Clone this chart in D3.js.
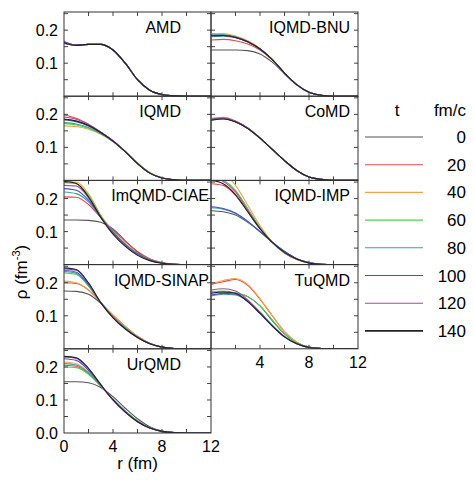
<!DOCTYPE html>
<html><head><meta charset="utf-8">
<script src="https://cdn.jsdelivr.net/npm/d3@7"></script>
<style>body{margin:0;background:#fff}text{font-family:"Liberation Sans",Arial,sans-serif}</style>
</head><body><div id="chart"></div>
<script>
// radial density profiles, one panel per model
var radii = [0, 1, 2, 3, 4, 5, 6, 7, 8, 9, 10, 12];
var times = [0, 20, 40, 60, 80, 100, 120, 140];
var colors = ["#555555", "#e8474e", "#f5a34a", "#4fd14f", "#3aa39a", "#4a4ad6", "#9a4f9a", "#222222"];

var amd = [
  [.160,.154,.157,.157,.140,.100,.050,.018,.005,.001,0,0],
  [.161,.154,.157,.157,.140,.100,.050,.018,.005,.001,0,0],
  [.162,.155,.157,.157,.140,.100,.050,.018,.005,.001,0,0],
  [.163,.155,.157,.157,.140,.100,.050,.018,.005,.001,0,0],
  [.164,.155,.157,.157,.140,.100,.050,.018,.005,.001,0,0],
  [.166,.155,.157,.157,.140,.100,.050,.018,.005,.001,0,0],
  [.163,.155,.157,.157,.140,.100,.050,.018,.005,.001,0,0],
  [.162,.154,.157,.157,.140,.100,.050,.018,.005,.001,0,0]];
var iqmdBnu = [
  [.140,.140,.140,.138,.128,.103,.068,.034,.012,.003,0,0],
  [.170,.172,.168,.158,.140,.110,.070,.035,.012,.003,0,0],
  [.190,.190,.182,.168,.145,.112,.070,.035,.012,.003,0,0],
  [.185,.186,.180,.166,.144,.112,.070,.035,.012,.003,0,0],
  [.180,.182,.177,.164,.142,.111,.070,.035,.012,.003,0,0],
  [.185,.185,.179,.165,.143,.111,.070,.035,.012,.003,0,0],
  [.183,.184,.178,.165,.143,.111,.070,.035,.012,.003,0,0],
  [.183,.184,.178,.165,.143,.111,.070,.035,.012,.003,0,0]];
var iqmd = [
  [.183,.178,.165,.145,.120,.088,.052,.023,.007,.002,0,0],
  [.198,.188,.170,.147,.120,.087,.051,.022,.007,.002,0,0],
  [.165,.163,.155,.140,.118,.088,.053,.024,.008,.002,0,0],
  [.172,.168,.158,.141,.118,.087,.052,.023,.007,.002,0,0],
  [.175,.171,.160,.142,.118,.087,.052,.023,.007,.002,0,0],
  [.185,.180,.166,.145,.119,.087,.051,.022,.007,.002,0,0],
  [.192,.185,.169,.146,.120,.087,.051,.022,.007,.002,0,0],
  [.185,.180,.166,.145,.119,.087,.051,.022,.007,.002,0,0]];
var comd = [
  [.184,.188,.178,.158,.128,.094,.060,.030,.010,.003,0,0],
  [.186,.190,.180,.159,.129,.094,.060,.030,.010,.003,0,0],
  [.188,.191,.180,.159,.129,.094,.060,.030,.010,.003,0,0],
  [.185,.189,.179,.158,.128,.094,.060,.030,.010,.003,0,0],
  [.184,.188,.178,.158,.128,.094,.060,.030,.010,.003,0,0],
  [.183,.187,.178,.158,.128,.094,.060,.030,.010,.003,0,0],
  [.185,.189,.179,.158,.128,.094,.060,.030,.010,.003,0,0],
  [.182,.186,.177,.157,.128,.094,.060,.030,.010,.003,0,0]];
var imqmdCiae = [
  [.135,.135,.134,.128,.108,.072,.038,.016,.005,.001,0,0],
  [.205,.204,.182,.142,.105,.070,.040,.018,.006,.001,0,0],
  [.250,.250,.215,.150,.098,.060,.033,.015,.005,.001,0,0],
  [.248,.245,.210,.148,.100,.062,.034,.015,.005,.001,0,0],
  [.220,.215,.190,.143,.100,.063,.034,.015,.005,.001,0,0],
  [.230,.225,.195,.144,.098,.060,.032,.014,.005,.001,0,0],
  [.240,.238,.202,.145,.096,.058,.030,.013,.004,.001,0,0],
  [.252,.246,.205,.143,.092,.055,.028,.012,.004,.001,0,0]];
var iqmdImp = [
  [.163,.160,.150,.128,.100,.068,.040,.018,.006,.001,0,0],
  [.245,.240,.210,.160,.110,.068,.036,.016,.005,.001,0,0],
  [.280,.275,.240,.180,.118,.068,.034,.015,.005,.001,0,0],
  [.262,.255,.225,.170,.113,.068,.035,.016,.005,.001,0,0],
  [.172,.168,.155,.130,.100,.068,.040,.018,.006,.001,0,0],
  [.175,.170,.156,.131,.100,.068,.040,.018,.006,.001,0,0],
  [.262,.252,.220,.165,.110,.067,.036,.016,.005,.001,0,0],
  [.255,.245,.212,.160,.108,.067,.037,.017,.005,.001,0,0]];
var iqmdSinap = [
  [.175,.174,.165,.138,.102,.068,.038,.017,.005,.001,0,0],
  [.200,.198,.178,.140,.100,.066,.037,.016,.005,.001,0,0],
  [.205,.200,.178,.140,.102,.068,.038,.017,.005,.001,0,0],
  [.230,.225,.190,.140,.098,.064,.036,.016,.005,.001,0,0],
  [.235,.228,.192,.140,.097,.063,.035,.016,.005,.001,0,0],
  [.238,.232,.195,.140,.096,.062,.035,.016,.005,.001,0,0],
  [.242,.238,.198,.140,.095,.061,.034,.015,.005,.001,0,0],
  [.245,.240,.200,.140,.094,.060,.034,.015,.005,.001,0,0]];
var tuqmd = [
  [.172,.172,.168,.158,.130,.085,.045,.018,.005,.001,0,0],
  [.195,.203,.210,.192,.150,.100,.052,.020,.005,.001,0,0],
  [.198,.207,.213,.195,.152,.101,.052,.020,.005,.001,0,0],
  [.172,.175,.170,.158,.130,.088,.046,.018,.005,.001,0,0],
  [.160,.165,.163,.145,.112,.072,.038,.016,.005,.001,0,0],
  [.163,.168,.165,.143,.108,.070,.036,.015,.004,.001,0,0],
  [.178,.182,.175,.148,.110,.070,.036,.015,.004,.001,0,0],
  [.168,.172,.168,.143,.107,.069,.036,.015,.004,.001,0,0]];
var urqmd = [
  [.155,.155,.152,.138,.110,.075,.043,.019,.006,.001,0,0],
  [.205,.202,.180,.142,.102,.066,.036,.016,.005,.001,0,0],
  [.215,.210,.185,.144,.102,.066,.036,.016,.005,.001,0,0],
  [.200,.198,.178,.142,.103,.067,.037,.016,.005,.001,0,0],
  [.210,.206,.182,.143,.102,.066,.036,.016,.005,.001,0,0],
  [.225,.220,.190,.145,.100,.064,.035,.015,.005,.001,0,0],
  [.230,.226,.194,.146,.100,.063,.034,.015,.005,.001,0,0],
  [.232,.228,.196,.147,.100,.063,.034,.015,.005,.001,0,0]];

var panels = [
  {name: "AMD", rows: amd, col: 0, row: 0},
  {name: "IQMD-BNU", rows: iqmdBnu, col: 1, row: 0},
  {name: "IQMD", rows: iqmd, col: 0, row: 1},
  {name: "CoMD", rows: comd, col: 1, row: 1},
  {name: "ImQMD-CIAE", rows: imqmdCiae, col: 0, row: 2},
  {name: "IQMD-IMP", rows: iqmdImp, col: 1, row: 2},
  {name: "IQMD-SINAP", rows: iqmdSinap, col: 0, row: 3},
  {name: "TuQMD", rows: tuqmd, col: 1, row: 3},
  {name: "UrQMD", rows: urqmd, col: 0, row: 4}
];

var width = 474, height = 481;
var marginLeft = 64, marginTop = 12, pw = 147, ph = 84.2;

var svg = d3.select("#chart").append("svg")
  .attr("width", width).attr("height", height);

var x = d3.scaleLinear().domain([0, 12]).range([0, pw]);
var y = d3.scaleLinear().domain([0, 0.255]).range([ph, 0]);

var line = d3.line()
  .curve(d3.curveMonotoneX)
  .x(function(d, i) { return x(radii[i]); })
  .y(function(d) { return y(d); });

svg.append("defs").append("clipPath").attr("id", "clip")
  .append("rect").attr("width", pw).attr("height", ph);

panels.forEach(function(p) {
  var g = svg.append("g")
    .attr("transform", "translate(" + (marginLeft + p.col * pw) + "," + (marginTop + p.row * ph) + ")");

  var inner = g.append("g").attr("clip-path", "url(#clip)");
  p.rows.forEach(function(vals, k) {
    inner.append("path")
      .attr("d", line(vals))
      .attr("fill", "none")
      .attr("stroke", colors[k])
      .attr("stroke-width", 1.1);
  });

  // ticks inside, all four sides
  var yt = [0.05, 0.1, 0.15, 0.2, 0.25];
  var xt = [2, 4, 6, 8, 10];
  yt.forEach(function(v) {
    g.append("line").attr("x1", 0).attr("x2", 4).attr("y1", y(v)).attr("y2", y(v)).attr("stroke", "#444");
    g.append("line").attr("x1", pw - 4).attr("x2", pw).attr("y1", y(v)).attr("y2", y(v)).attr("stroke", "#444");
  });
  xt.forEach(function(v) {
    g.append("line").attr("x1", x(v)).attr("x2", x(v)).attr("y1", ph).attr("y2", ph - 4).attr("stroke", "#444");
    g.append("line").attr("x1", x(v)).attr("x2", x(v)).attr("y1", 0).attr("y2", 4).attr("stroke", "#444");
  });
  g.append("rect").attr("width", pw).attr("height", ph)
    .attr("fill", "none").attr("stroke", "#333").attr("stroke-width", 1);

  var nx = p.col === 0 ? (p.name.length > 6 ? pw - 2 : pw - 30) : pw - 8;
  g.append("text").attr("x", nx).attr("y", 21)
    .attr("text-anchor", "end").attr("font-size", 16).text(p.name);

  if (p.col === 0) {
    [0.1, 0.2].forEach(function(v) {
      g.append("text").attr("x", -6).attr("y", y(v) + 6)
        .attr("text-anchor", "end").attr("font-size", 16).text(v.toFixed(1));
    });
    if (p.row === 4) {
      g.append("text").attr("x", -6).attr("y", y(0) + 6)
        .attr("text-anchor", "end").attr("font-size", 16).text("0.0");
    }
  }
  var last = (p.col === 0 && p.row === 4) || (p.col === 1 && p.row === 3);
  if (last) {
    var labs = p.col === 0 ? [0, 4, 8, 12] : [4, 8, 12];
    labs.forEach(function(v) {
      g.append("text").attr("x", x(v)).attr("y", ph + 19)
        .attr("text-anchor", "middle").attr("font-size", 16).text(v);
    });
  }
});

// axis titles
svg.append("text").attr("transform", "translate(27,272) rotate(-90)")
  .attr("text-anchor", "middle").attr("font-size", 17)
  .html('ρ (fm<tspan dy="-7" font-size="11">-3</tspan><tspan dy="7">)</tspan>');
svg.append("text").attr("x", marginLeft + pw / 2).attr("y", 469)
  .attr("text-anchor", "middle").attr("font-size", 17).text("r (fm)");

// legend
svg.append("text").attr("x", 397).attr("y", 116).attr("text-anchor", "middle").attr("font-size", 17).text("t");
svg.append("text").attr("x", 466).attr("y", 116).attr("text-anchor", "end").attr("font-size", 17).text("fm/c");
times.forEach(function(t, k) {
  var ly = 137 + k * 27.7;
  svg.append("line").attr("x1", 365).attr("x2", 423).attr("y1", ly).attr("y2", ly)
    .attr("stroke", colors[k]).attr("stroke-width", k === 7 ? 1.6 : 1.1);
  svg.append("text").attr("x", 466).attr("y", ly + 6).attr("text-anchor", "end")
    .attr("font-size", 17).text(t);
});
</script></body></html>
